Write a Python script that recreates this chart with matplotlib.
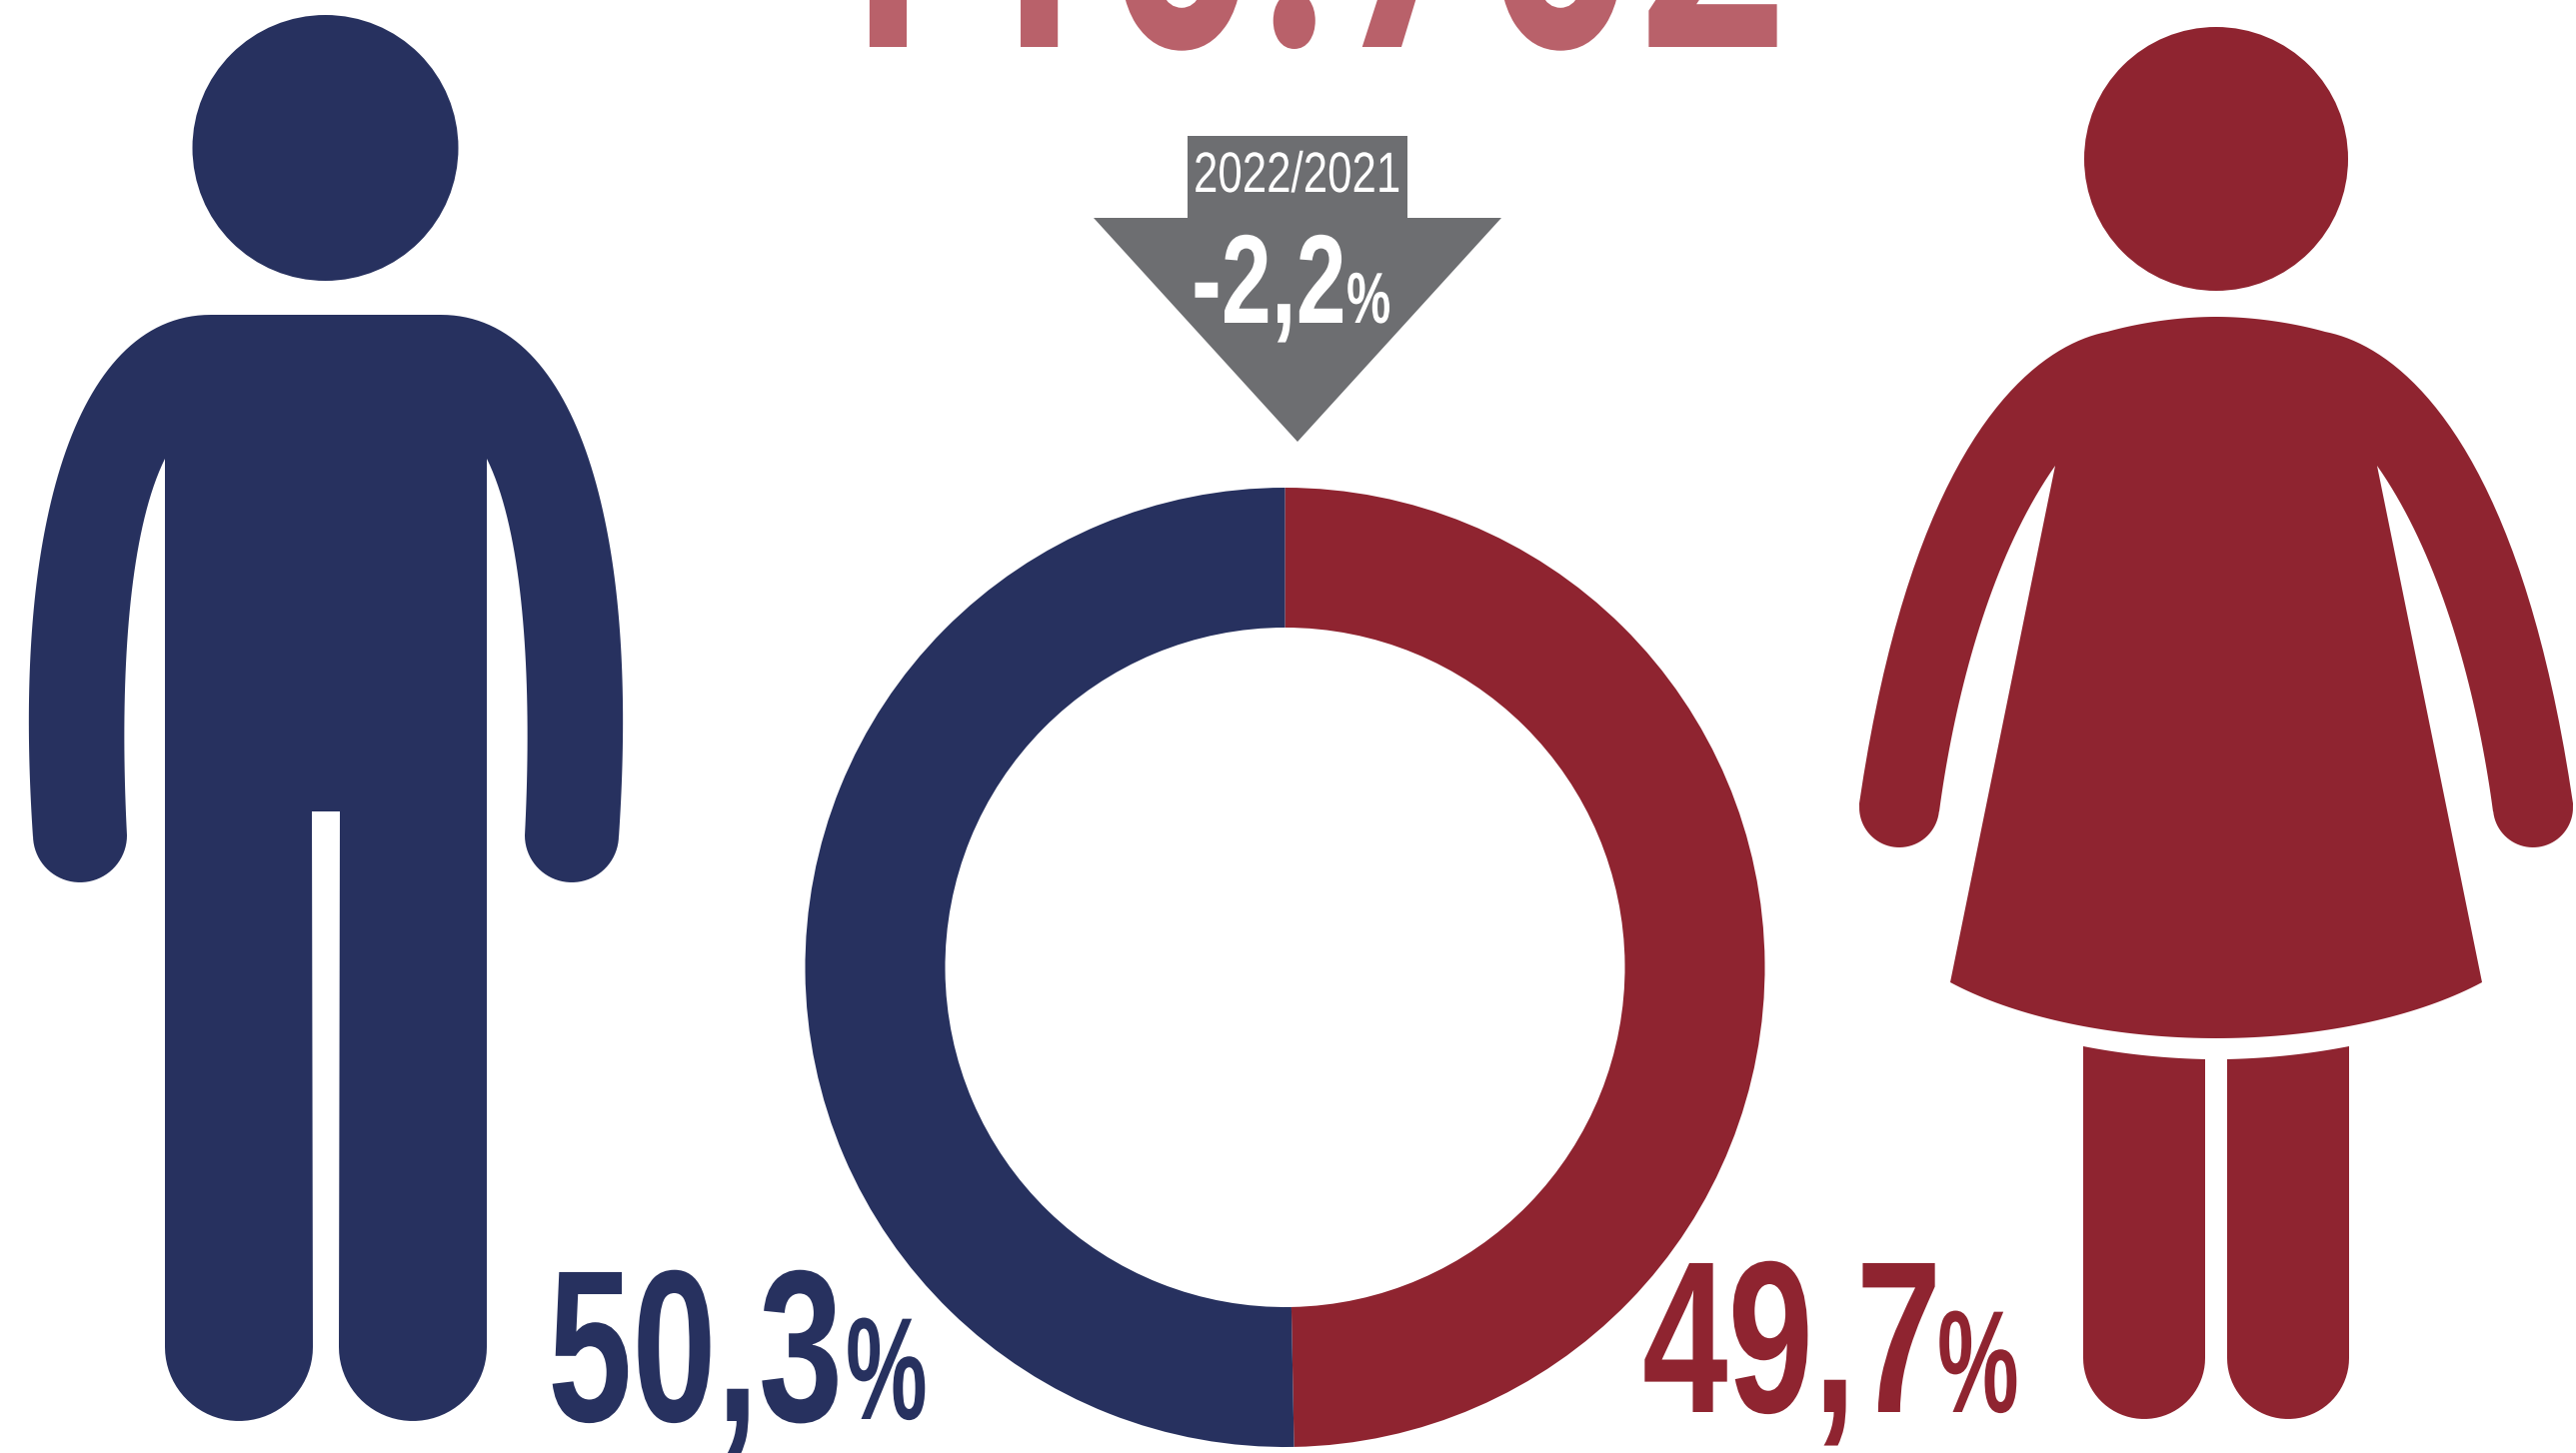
import numpy as np
import matplotlib
matplotlib.use('Agg')
import matplotlib.pyplot as plt
from matplotlib.patheffects import AbstractPathEffect
from matplotlib.text import Text
from matplotlib.transforms import Affine2D, Bbox

plt.rcParams['font.family'] = ['Liberation Sans', 'DejaVu Sans']

W, H = 2577, 1454
NAVY = '#27315f'
RED = '#8f2430'
GREY = '#6d6e71'
FADED = '#b9616a'

# chart values
shares = [49.7, 50.3]
share_colors = [RED, NAVY]
total_label = '110.702'
change_label = '-2,2'
period_label = '2022/2021'
men_label = '50,3'
women_label = '49,7'


class Squeeze(AbstractPathEffect):
    # condensed look: squeeze the glyphs sideways around the text origin
    def __init__(self, sx):
        super().__init__()
        self.sx = sx

    def draw_path(self, renderer, gc, tpath, affine, rgbFace=None):
        renderer.draw_path(gc, tpath, Affine2D().scale(self.sx, 1) + affine, rgbFace)


class NarrowText(Text):
    # same as Text, the extent just follows the squeezed glyphs
    sx = 1

    def get_window_extent(self, renderer=None, dpi=None):
        bb = super().get_window_extent(renderer, dpi)
        return Bbox.from_extents(bb.x0, bb.y0, bb.x0 + bb.width*self.sx, bb.y1)


def label(x, y, s, size, color, sx, weight='bold', family='Liberation Sans'):
    t = NarrowText(x, y, s, fontsize=size, color=color, weight=weight, family=family,
                   ha='left', va='baseline', path_effects=[Squeeze(sx)])
    t.sx = sx
    ax.add_artist(t)


def bez(p0, p1, p2, p3, n=40):
    t = np.linspace(0, 1, n)[:, None]
    p0, p1, p2, p3 = map(np.array, (p0, p1, p2, p3))
    return (1-t)**3*p0 + 3*(1-t)**2*t*p1 + 3*(1-t)*t**2*p2 + t**3*p3


def arc(cx, cy, r, a0, a1, n=40):
    # angles in degrees, y axis points down
    a = np.radians(np.linspace(a0, a1, n))
    return np.column_stack([cx + r*np.cos(a), cy + r*np.sin(a)])


def mirror(pts, xc):
    out = pts[::-1].copy()
    out[:, 0] = 2*xc - out[:, 0]
    return out


fig = plt.figure(figsize=(W/100, H/100), dpi=100)
ax = fig.add_axes([0, 0, 1, 1])

# donut
ax.pie(shares, colors=share_colors, startangle=-90, radius=480, center=(1285.5, 968),
       wedgeprops=dict(width=140, linewidth=0))
ax.set_xlim(0, W)
ax.set_ylim(H, 0)
ax.set_aspect('auto')
ax.axis('off')

# man
man_x = 326
man_side = np.vstack([
    bez((326, 315), (326, 315), (260, 315), (211, 315), 5),
    bez((211, 315), (125, 315), (72, 400), (47, 520)),
    bez((47, 520), (28, 610), (25, 720), (33, 838)),
    arc(80, 836, 47, 180, 0),
    bez((127, 836), (120, 700), (125, 540), (165, 459)),
    [[165, 1348]],
    arc(239, 1348, 74, 180, 0),
    [[312, 812], [326, 812]],
])
ax.add_patch(plt.Circle((325.5, 148), 133, color=NAVY, lw=0))
ax.fill(*np.vstack([man_side, mirror(man_side, man_x)]).T, color=NAVY, lw=0)

# woman
woman_x = 2217
woman_side = np.vstack([
    bez((2217, 317), (2180, 317), (2140, 323), (2108, 332)),
    bez((2108, 332), (2040, 345), (1915, 430), (1860, 804)),
    arc(1900, 808, 40, 176, 6),
    bez((1940, 812), (1955, 700), (1990, 560), (2056, 466)),
    [[1951, 983]],
    bez((1951, 983), (2020, 1020), (2120, 1039), (2217, 1039)),
])
ax.add_patch(plt.Circle((woman_x, 159), 132, color=RED, lw=0))
ax.fill(*np.vstack([woman_side, mirror(woman_side, woman_x)]).T, color=RED, lw=0)
leg = np.vstack([
    bez((2084, 1047), (2125, 1055), (2165, 1059), (2206, 1060)),
    [[2206, 1359]],
    arc(2145, 1359, 61, 0, 180),
])
ax.fill(*leg.T, color=RED, lw=0)
ax.fill(*mirror(leg, woman_x).T, color=RED, lw=0)

# arrow
ax.fill([1188, 1408, 1408, 1502, 1298, 1094, 1188], [136, 136, 218, 218, 442, 218, 218], color=GREY, lw=0)

label(804, 47, total_label, 271, FADED, 0.7, family='Roboto')
label(1194, 192, period_label, 41, 'white', 0.77, weight='normal')
label(1192, 323, change_label, 91, 'white', 0.71)
label(1347, 323, '%', 52, 'white', 0.69)
label(548, 1422, men_label, 156, NAVY, 0.7)
label(846, 1420, '%', 105, NAVY, 0.63)
label(1643, 1413, women_label, 156, RED, 0.71)
label(1938, 1413, '%', 105, RED, 0.63)

fig.savefig('out.png', dpi=100, facecolor='white')
